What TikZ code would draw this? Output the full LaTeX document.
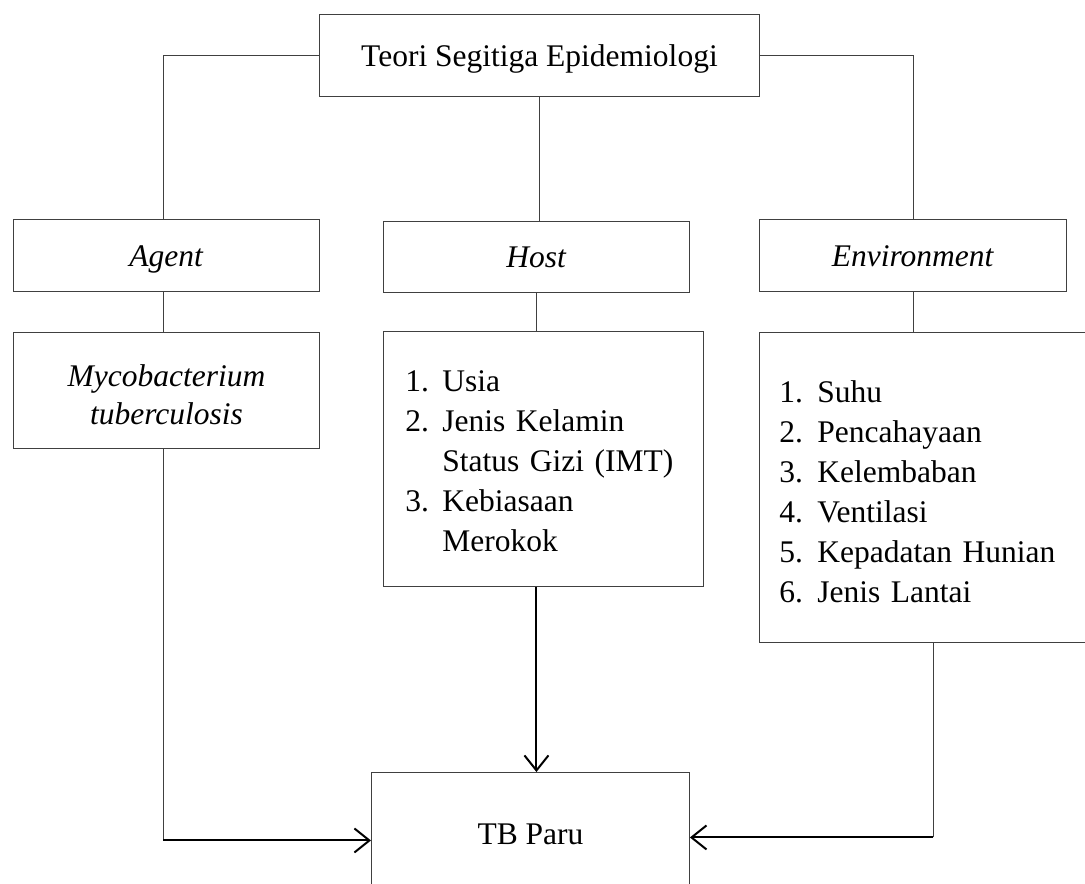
\documentclass[tikz,border=0pt]{standalone}
\usepackage{fontspec}
\setmainfont{Liberation Serif}
\usetikzlibrary{arrows.meta}
\begin{document}
\begin{tikzpicture}[x=1pt,y=1pt,
 box/.style={draw=black!75, line width=0.9pt, inner sep=0pt, font=\fontsize{31.5}{40}\selectfont, align=center, anchor=north west},
 onebox/.style={box, text height=24pt, text depth=2pt},
 listbox/.style={box, align=left},
 thinline/.style={draw=black!75, line width=0.9pt},
 arr/.style={draw=black, line width=2pt, -{Straight Barb[length=15pt,width=24pt,line width=2pt]}},
]
\useasboundingbox (0,0) rectangle (1085,-884);
\fill[white] (0,0) rectangle (1085,-884);
\clip (0,0) rectangle (1085,-884);
\node[onebox, minimum width=440pt, minimum height=82pt] (top) at (319,-14) {Teori Segitiga Epidemiologi};
\node[onebox, minimum width=306pt, minimum height=72pt] (agent) at (13,-219) {\textit{Agent}};
\node[onebox, minimum width=306pt, minimum height=71pt] (host) at (383,-221) {\textit{Host}};
\node[onebox, minimum width=307pt, minimum height=72pt] (env) at (759,-219) {\textit{Environment}};
\node[box, minimum width=306pt, minimum height=116pt, font=\fontsize{31.5}{38}\selectfont] (myco) at (13,-332) {\rule{0pt}{30pt}\textit{Mycobacterium}\\\textit{tuberculosis}};
\node[listbox, minimum width=320pt, minimum height=255pt, text width=276pt, inner xsep=22pt] (hostlist) at (383,-331)
 {\makebox[37pt][l]{1.}Usia\rule{0pt}{26pt}\\
  \makebox[37pt][l]{2.}Jenis Kelamin\\
  \hspace*{37pt}Status Gizi (IMT)\\
  \makebox[37pt][l]{3.}Kebiasaan\\
  \hspace*{37pt}Merokok};
\node[listbox, minimum width=348pt, minimum height=310pt, text width=308pt, inner xsep=20pt] (envlist) at (759,-332)
 {\makebox[38pt][l]{1.}Suhu\rule{0pt}{30pt}\\
  \makebox[38pt][l]{2.}Pencahayaan\\
  \makebox[38pt][l]{3.}Kelembaban\\
  \makebox[38pt][l]{4.}Ventilasi\\
  \makebox[38pt][l]{5.}Kepadatan Hunian\\
  \makebox[38pt][l]{6.}Jenis Lantai};
\node[onebox, minimum width=318pt, minimum height=122pt] (tb) at (371,-772) {TB Paru};
% upper connectors
\path ([xshift=-3pt]agent.north) coordinate (aN);
\path ([xshift=-3pt]agent.south) coordinate (aS);
\path ([xshift=-3pt]myco.north) coordinate (mN);
\path ([xshift=-3pt]myco.south) coordinate (mS);
\draw[thinline] (top.west) -| (aN);
\draw[thinline] (top.east) -| (env.north);
\draw[thinline] (top.south) -- (top.south |- host.north);
\draw[thinline] (aS) -- (mN);
\draw[thinline] (host.south) -- (host.south |- hostlist.north);
\draw[thinline] (env.south) -- (env.south |- envlist.north);
% lower connectors
\path ([yshift=-7pt]tb.west) coordinate (tL);
\path ([yshift=-4pt]tb.east) coordinate (tR);
\coordinate (cL) at (mS |- tL);
\coordinate (cR) at (envlist.south |- tR);
\draw[thinline] (mS) -- (cL);
\draw[arr] (cL) -- (tL);
\draw[thinline] (envlist.south) -- (cR);
\draw[arr] (cR) -- (tR);
\path (host.south |- hostlist.south) coordinate (hB);
\draw[arr] (hB) -- (hB |- tb.north);
\end{tikzpicture}
\end{document}
